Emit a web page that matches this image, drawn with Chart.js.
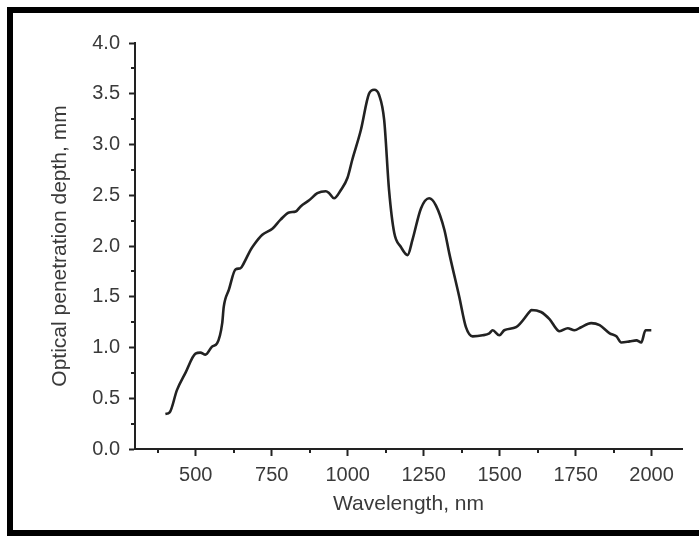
<!DOCTYPE html>
<html>
<head>
<meta charset="utf-8">
<script src="https://cdn.jsdelivr.net/npm/chart.js@4/dist/chart.umd.min.js"></script>
<style>
  html, body { margin: 0; padding: 0; background: #fff; }
  #wrap { position: relative; width: 699px; height: 536px; overflow: hidden; background: #fff; }
  #frame { position: absolute; left: 7px; top: 7px; width: 720px; height: 517px;
           border-left: 6px solid #000; border-top: 6px solid #000; border-bottom: 6px solid #000; }
  #chart { position: absolute; left: 0; top: 0; }
</style>
</head>
<body>
<div id="wrap">
  <div id="frame"></div>
  <canvas id="chart" width="699" height="536"></canvas>
</div>
<script>
// Spectrum (wavelength in nm, depth in mm)
const wavelengths = [400, 414, 438, 466, 499, 515, 532, 554, 570, 587, 592, 609, 631, 647, 658, 680,
  691, 719, 752, 779, 807, 829, 845, 873, 900, 928, 939, 955, 977, 999, 1015, 1043, 1070, 1087, 1103,
  1120, 1136, 1153, 1175, 1197, 1213, 1241, 1268, 1290, 1318, 1334, 1367, 1389, 1411, 1444, 1466,
  1477, 1499, 1515, 1554, 1598, 1604, 1636, 1664, 1697, 1724, 1746, 1768, 1801, 1829, 1862, 1884,
  1900, 1928, 1950, 1966, 1980, 1999];
const depths = [0.345, 0.36, 0.58, 0.75, 0.94, 0.95, 0.93, 1.01, 1.04, 1.24, 1.40, 1.57, 1.77, 1.78,
  1.83, 1.96, 2.01, 2.11, 2.17, 2.26, 2.33, 2.34, 2.39, 2.45, 2.52, 2.54, 2.52, 2.47, 2.55, 2.67, 2.85,
  3.14, 3.50, 3.54, 3.49, 3.24, 2.55, 2.13, 1.99, 1.91, 2.06, 2.37, 2.47, 2.40, 2.16, 1.93, 1.50, 1.20,
  1.11, 1.12, 1.14, 1.17, 1.12, 1.17, 1.20, 1.35, 1.37, 1.35, 1.28, 1.16, 1.19, 1.17, 1.20, 1.24, 1.22,
  1.14, 1.11, 1.05, 1.06, 1.07, 1.05, 1.17, 1.17];

// Axis ticks
const xMajorTicks = [500, 750, 1000, 1250, 1500, 1750, 2000];
const xMinorTicks = [375, 625, 875, 1125, 1375, 1625, 1875];
const yMajorTicks = [0, 0.5, 1.0, 1.5, 2.0, 2.5, 3.0, 3.5, 4.0];
const yMinorTicks = [0.25, 0.75, 1.25, 1.75, 2.25, 2.75, 3.25, 3.75];

const INK = "#222";
const TEXT = "#3a3a3a";
const FONT = "'Liberation Sans', Arial, sans-serif";

// short minor tick marks, placed through the scales
const minorTicks = {
    id: "minorTicks",
    afterDraw(chart) {
        const ctx = chart.ctx;
        const x = chart.scales.x, y = chart.scales.y;
        ctx.save();
        ctx.strokeStyle = INK;
        ctx.lineWidth = 2;
        ctx.beginPath();
        xMinorTicks.forEach(v => {
            const px = Math.round(x.getPixelForValue(v));
            ctx.moveTo(px, x.top);
            ctx.lineTo(px, x.top + 4);
        });
        yMinorTicks.forEach(v => {
            const py = Math.round(y.getPixelForValue(v));
            ctx.moveTo(y.right, py);
            ctx.lineTo(y.right - 4, py);
        });
        ctx.stroke();
        ctx.restore();
    }
};

new Chart(document.getElementById("chart"), {
    type: "line",
    data: {
        datasets: [{
            data: wavelengths.map((w, i) => ({ x: w, y: depths[i] })),
            borderColor: INK,
            borderWidth: 2.6,
            pointRadius: 0,
            fill: false,
            cubicInterpolationMode: "monotone"
        }]
    },
    options: {
        responsive: false,
        animation: false,
        devicePixelRatio: 1,
        layout: { padding: { left: 0, top: 43, right: 17, bottom: 0 } },
        plugins: { legend: { display: false }, tooltip: { enabled: false } },
        scales: {
            x: {
                type: "linear",
                min: 300,
                max: 2100,
                afterFit: s => { s.height = 87; },
                afterBuildTicks: s => { s.ticks = xMajorTicks.map(v => ({ value: v })); },
                grid: { drawOnChartArea: false, drawTicks: true, tickLength: 7, tickColor: INK, tickWidth: 2 },
                border: { display: true, color: INK, width: 2 },
                ticks: { color: TEXT, padding: 7, maxRotation: 0, font: { family: FONT, size: 20 },
                         callback: v => String(v) },
                title: { display: true, text: "Wavelength, nm", color: TEXT,
                         font: { family: FONT, size: 21 }, padding: { top: 0, bottom: 19 } }
            },
            y: {
                type: "linear",
                min: 0,
                max: 4,
                afterFit: s => { s.width = 135; },
                afterBuildTicks: s => { s.ticks = yMajorTicks.map(v => ({ value: v })); },
                grid: { drawOnChartArea: false, drawTicks: true, tickLength: 6, tickColor: INK, tickWidth: 2 },
                border: { display: true, color: INK, width: 2 },
                ticks: { color: TEXT, padding: 9, font: { family: FONT, size: 20 },
                         callback: v => v.toFixed(1) },
                title: { display: true, text: "Optical penetration depth, mm", color: TEXT,
                         font: { family: FONT, size: 21 }, padding: { top: 48, bottom: 0 } }
            }
        }
    },
    plugins: [minorTicks]
});
</script>
</body>
</html>
